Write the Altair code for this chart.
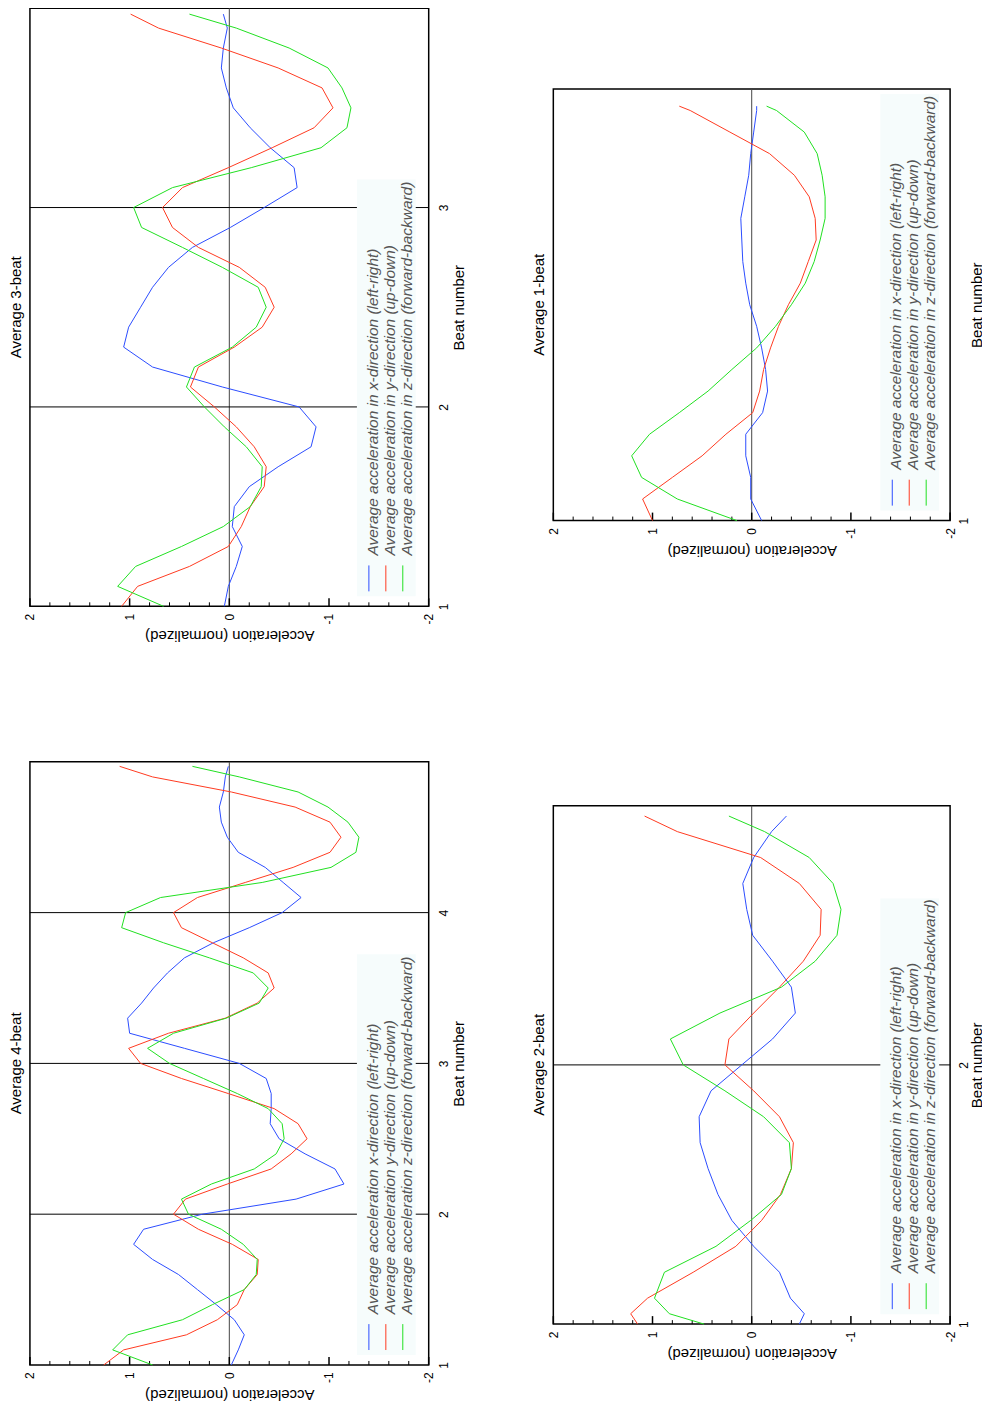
import altair as alt
import pandas as pd

FONT = "Liberation Sans"
SERIES = ["x", "y", "z"]
COLORS = ["#2b4cff", "#ff3a20", "#20e020"]
LEGEND_TEXT_COLOR = "#555555"
BOX_FILL = "#f6fcfc"

LABELS_IN = [
    "Average acceleration in x-direction (left-right)",
    "Average acceleration in y-direction (up-down)",
    "Average acceleration in z-direction (forward-backward)",
]
LABELS_NO_IN = [
    "Average acceleration x-direction (left-right)",
    "Average acceleration y-direction (up-down)",
    "Average acceleration z-direction (forward-backward)",
]

# ---------------- Average 3-beat ----------------
beats_3 = [1.0, 1.1, 1.2, 1.3, 1.4, 1.5, 1.6, 1.7, 1.8, 1.9, 2.0, 2.1, 2.2, 2.3, 2.4, 2.5,
           2.6, 2.7, 2.8, 2.9, 3.0, 3.1, 3.2, 3.3, 3.4, 3.5, 3.6, 3.7, 3.8, 3.9, 3.97]
x_3 = [0.05, 0.01, -0.07, -0.13, -0.03, -0.05, -0.2, -0.49, -0.82, -0.87, -0.7, 0.07, 0.77,
       1.06, 1.01, 0.89, 0.77, 0.61, 0.37, -0.01, -0.35, -0.68, -0.65, -0.41, -0.21, -0.04,
       0.03, 0.08, 0.06, 0.02, 0.06]
y_3 = [1.08, 0.92, 0.4, 0.01, -0.12, -0.21, -0.35, -0.37, -0.25, -0.07, 0.15, 0.39, 0.31,
       -0.05, -0.33, -0.45, -0.36, -0.1, 0.31, 0.57, 0.67, 0.47, 0.01, -0.43, -0.85, -1.04,
       -0.93, -0.49, 0.08, 0.71, 0.99]
z_3 = [0.66, 1.12, 0.94, 0.48, 0.06, -0.21, -0.32, -0.33, -0.17, 0.05, 0.25, 0.43, 0.35,
       -0.03, -0.27, -0.37, -0.29, 0.07, 0.47, 0.88, 0.96, 0.57, -0.22, -0.92, -1.18, -1.22,
       -1.13, -0.99, -0.6, -0.07, 0.4]

# ---------------- Average 4-beat ----------------
beats_4 = [1.0, 1.1, 1.2, 1.3, 1.4, 1.5, 1.6, 1.7, 1.8, 1.9,
           2.0, 2.1, 2.2, 2.3, 2.4, 2.5, 2.6, 2.7, 2.8, 2.9,
           3.0, 3.1, 3.2, 3.3, 3.4, 3.5, 3.6, 3.7, 3.8, 3.9,
           4.0, 4.1, 4.2, 4.3, 4.4, 4.5, 4.6, 4.7, 4.8, 4.9, 4.97]
x_4 = [-0.02, -0.09, -0.15, -0.05, 0.13, 0.32, 0.51, 0.77, 0.96, 0.86,
       0.27, -0.67, -1.15, -1.06, -0.76, -0.5, -0.41, -0.42, -0.42, -0.37,
       -0.1, 0.45, 1.0, 1.02, 0.88, 0.76, 0.62, 0.45, 0.16, -0.2,
       -0.53, -0.72, -0.54, -0.36, -0.09, 0.02, 0.08, 0.1, 0.06, 0.04, 0.01]
y_4 = [1.26, 1.06, 0.43, 0.12, -0.08, -0.15, -0.28, -0.29, -0.03, 0.31,
       0.56, 0.44, 0.02, -0.42, -0.62, -0.78, -0.69, -0.45, 0.01, 0.48,
       0.89, 1.01, 0.61, 0.04, -0.28, -0.45, -0.39, -0.14, 0.17, 0.48,
       0.56, 0.32, -0.16, -0.64, -1.01, -1.12, -1.01, -0.66, -0.02, 0.77, 1.1]
z_4 = [0.77, 1.17, 1.02, 0.47, 0.17, -0.15, -0.27, -0.28, -0.14, 0.08,
       0.41, 0.48, 0.18, -0.25, -0.47, -0.55, -0.53, -0.39, -0.08, 0.26,
       0.6, 0.82, 0.56, 0.03, -0.3, -0.39, -0.24, 0.2, 0.66, 1.08,
       1.04, 0.69, -0.33, -1.02, -1.27, -1.3, -1.19, -0.99, -0.69, -0.1, 0.37]

# ---------------- Average 1-beat ----------------
beats_1 = [1.0, 1.05, 1.1, 1.15, 1.2, 1.25, 1.3, 1.35, 1.4, 1.45, 1.5,
           1.55, 1.6, 1.65, 1.7, 1.75, 1.8, 1.85, 1.9, 1.95, 1.96]
x_1 = [-0.1, 0.01, 0.01, 0.06, 0.06, -0.11, -0.16, -0.14, -0.1, -0.05, 0.02,
       0.06, 0.09, 0.1, 0.11, 0.07, 0.03, 0.01, -0.02, -0.05, -0.05]
y_1 = [1.0, 1.1, 0.8, 0.5, 0.26, -0.01, -0.08, -0.12, -0.19, -0.27, -0.37,
       -0.49, -0.57, -0.65, -0.64, -0.58, -0.43, -0.18, 0.22, 0.62, 0.73]
z_1 = [0.15, 0.75, 1.11, 1.21, 1.03, 0.73, 0.44, 0.2, -0.05, -0.24, -0.4,
       -0.54, -0.63, -0.69, -0.74, -0.74, -0.71, -0.66, -0.53, -0.25, -0.15]

# ---------------- Average 2-beat ----------------
beats_2 = [1.0, 1.04, 1.1, 1.2, 1.3, 1.4, 1.5, 1.6, 1.7, 1.8, 1.9,
           2.0, 2.1, 2.2, 2.3, 2.4, 2.5, 2.6, 2.7, 2.8, 2.9, 2.96]
x_2 = [-0.48, -0.53, -0.39, -0.28, -0.02, 0.2, 0.34, 0.44, 0.52, 0.53, 0.41,
       0.1, -0.21, -0.44, -0.4, -0.21, -0.01, 0.05, 0.09, -0.02, -0.2, -0.35]
y_2 = [1.15, 1.22, 1.05, 0.59, 0.16, -0.1, -0.29, -0.4, -0.42, -0.28, -0.02,
       0.27, 0.23, -0.02, -0.28, -0.52, -0.69, -0.7, -0.48, -0.09, 0.75, 1.08]
z_2 = [0.48, 0.83, 0.98, 0.88, 0.36, 0.01, -0.3, -0.4, -0.38, -0.12, 0.27,
       0.69, 0.82, 0.32, -0.3, -0.64, -0.86, -0.9, -0.82, -0.58, -0.13, 0.23]

ACC_TICKS_MAJOR = [-2, -1, 0, 1, 2]
ACC_TICKS_MINOR = [-1.8, -1.6, -1.4, -1.2, -0.8, -0.6, -0.4, -0.2,
                   0.2, 0.4, 0.6, 0.8, 1.2, 1.4, 1.6, 1.8]


def panel(title, beats, xs, ys, zs, labels, width, height, n_beats, box_top,
          beat_label_pad=10, beat_title_pad=2):
    rows = []
    for s, vals in zip(SERIES, (xs, ys, zs)):
        for b, v in zip(beats, vals):
            rows.append({"beat": b, "acc": v, "series": s})
    df = pd.DataFrame(rows)

    xscale = alt.Scale(domain=[-2, 2], reverse=True, nice=False, zero=False)
    yscale = alt.Scale(domain=[1, 1 + n_beats], nice=False, zero=False)

    xaxis = alt.Axis(
        values=ACC_TICKS_MAJOR, labelExpr="'' + datum.value", labelAngle=270,
        labelAlign="right", labelBaseline="middle", labelPadding=7,
        labelFont=FONT, labelFontSize=12, labelColor="black",
        labelFlush=False, labelOverlap=False,
        ticks=False, domain=False, grid=False,
        title="Acceleration (normalized)", titleAngle=180, titleBaseline="bottom",
        titleFont=FONT, titleFontSize=15, titleFontWeight="normal",
        titleColor="black", titlePadding=4,
    )
    yaxis = alt.Axis(
        orient="right", values=list(range(1, 1 + n_beats)),
        labelExpr="'' + datum.value", labelAngle=270,
        labelAlign="center", labelBaseline="top", labelPadding=beat_label_pad,
        labelFont=FONT, labelFontSize=12, labelColor="black",
        labelFlush=False, labelOverlap=False,
        ticks=False, domain=False, grid=False,
        title="Beat number", titleAngle=270, titleBaseline="top",
        titleFont=FONT, titleFontSize=15, titleFontWeight="normal",
        titleColor="black", titlePadding=beat_title_pad,
    )
    X = alt.X("acc:Q", scale=xscale, axis=xaxis)
    Y = alt.Y("beat:Q", scale=yscale, axis=yaxis)

    zero = alt.Chart(pd.DataFrame({"acc": [0]})).mark_rule(
        color="#444444", strokeWidth=1
    ).encode(x=X)

    beat_rules = alt.Chart(pd.DataFrame({"beat": list(range(2, 1 + n_beats))})).mark_rule(
        color="black", strokeWidth=1
    ).encode(y=Y)

    minor = alt.Chart(pd.DataFrame({"acc": ACC_TICKS_MINOR})).mark_rule(
        color="black", strokeWidth=1
    ).encode(x=X, y=alt.value(height), y2=alt.value(height - 4))
    major = alt.Chart(pd.DataFrame({"acc": ACC_TICKS_MAJOR})).mark_rule(
        color="black", strokeWidth=1.5
    ).encode(x=X, y=alt.value(height), y2=alt.value(height - 8))

    one = pd.DataFrame({"k": [0]})
    box = alt.Chart(one).mark_rect(fill=BOX_FILL).encode(
        x=alt.value(328), x2=alt.value(387),
        y=alt.value(height - box_top), y2=alt.value(height - 10),
    )

    lines = alt.Chart(df).mark_line(strokeWidth=1).encode(
        x=X, y=Y,
        color=alt.Color("series:N", scale=alt.Scale(domain=SERIES, range=COLORS), legend=None),
        order=alt.Order("beat:Q"),
    )

    legend_layers = []
    for i, (lab, col) in enumerate(zip(labels, COLORS)):
        lx = 340 + 17 * i
        legend_layers.append(
            alt.Chart(one).mark_rule(color=col, strokeWidth=1).encode(
                x=alt.value(lx), y=alt.value(height - 41), y2=alt.value(height - 15)
            )
        )
        legend_layers.append(
            alt.Chart(one).mark_text(
                text=lab, angle=270, align="left", baseline="middle",
                font=FONT, fontSize=15.5, fontStyle="italic", color=LEGEND_TEXT_COLOR,
            ).encode(x=alt.value(lx + 4), y=alt.value(height - 51))
        )

    return alt.layer(zero, beat_rules, minor, major, box, lines, *legend_layers).properties(
        width=width, height=height,
        title=alt.TitleParams(title, orient="left", anchor="middle", font=FONT,
                              fontSize=15, fontWeight="normal", color="black", offset=0),
        view=alt.ViewBackground(stroke="black", strokeWidth=1.5),
    )


p3 = panel("Average 3-beat", beats_3, x_3, y_3, z_3, LABELS_IN, 400, 600, 3, 428)
p4 = panel("Average 4-beat", beats_4, x_4, y_4, z_4, LABELS_NO_IN, 400, 605, 4, 412)
p1 = panel("Average 1-beat", beats_1, x_1, y_1, z_1, LABELS_IN, 398, 433, 1, 428,
           beat_label_pad=8, beat_title_pad=1)
p2 = panel("Average 2-beat", beats_2, x_2, y_2, z_2, LABELS_IN, 398, 520, 2, 427,
           beat_label_pad=8, beat_title_pad=1)

# empty block that only reserves vertical room above the 1-beat panel
spacer = alt.Chart(pd.DataFrame({"k": [0]})).mark_rule(opacity=0).encode(
    x=alt.value(10), y=alt.value(20), y2=alt.value(40)
).properties(width=398, height=78, view=alt.ViewBackground(stroke="transparent"))

left = alt.vconcat(p3, p4, spacing=116)
right = alt.vconcat(alt.vconcat(spacer, p1, spacing=0), p2, spacing=246)

chart = alt.hconcat(left, right, spacing=64).properties(
    padding={"left": 0, "top": -4, "right": -4, "bottom": 0}
).configure_view(stroke="transparent")

chart.save("out.html", embed_options={"renderer": "svg", "actions": False})
